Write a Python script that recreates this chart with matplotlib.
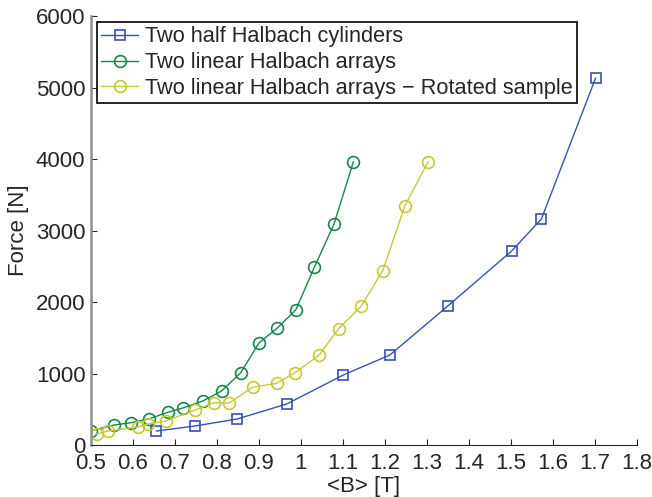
import numpy as np
import matplotlib
matplotlib.use("Agg")
from matplotlib import pyplot as plt

plt.rcParams["font.family"] = ["Liberation Sans", "DejaVu Sans"]

# Data
b_cyl = [0.656, 0.748, 0.848, 0.966, 1.101, 1.212, 1.350, 1.502, 1.573, 1.702]
f_cyl = [196, 266, 364, 573, 979, 1259, 1944, 2713, 3161, 5130]

b_lin = [0.500, 0.555, 0.595, 0.637, 0.683, 0.718, 0.766, 0.811, 0.857, 0.900,
         0.944, 0.988, 1.032, 1.079, 1.125]
f_lin = [200, 280, 312, 364, 457, 517, 615, 755, 1012, 1427,
         1636, 1892, 2485, 3091, 3961]

b_rot = [0.514, 0.541, 0.611, 0.636, 0.679, 0.748, 0.794, 0.829, 0.885, 0.942,
         0.986, 1.043, 1.090, 1.144, 1.195, 1.248, 1.303]
f_rot = [154, 196, 252, 294, 336, 490, 591, 587, 808, 863,
         1012, 1254, 1627, 1944, 2438, 3348, 3961]

labels = ["Two half Halbach cylinders",
          "Two linear Halbach arrays",
          "Two linear Halbach arrays \u2212 Rotated sample"]

fs = 16
fig = plt.figure(figsize=(6.52, 4.97), dpi=100)
ax = fig.add_axes([0.1396, 0.1046, 0.8369, 0.8632])

ax.plot(b_cyl, f_cyl, "-s", color="#3752b0", lw=1, ms=7, mfc="none", mew=1.2, label=labels[0])
ax.plot(b_lin, f_lin, "-o", color="#16874a", lw=1, ms=8.5, mfc="none", mew=1.2, label=labels[1])
ax.plot(b_rot, f_rot, "-o", color="#c8c834", lw=1, ms=8.5, mfc="none", mew=1.2, label=labels[2])

ax.set_xlim(0.5, 1.8)
ax.set_ylim(0, 6000)
ax.set_xticks(np.arange(0.5, 1.81, 0.1))
ax.set_xticklabels(["0.5", "0.6", "0.7", "0.8", "0.9", "1", "1.1", "1.2", "1.3",
                    "1.4", "1.5", "1.6", "1.7", "1.8"])
ax.set_yticks(np.arange(0, 6001, 1000))

ax.spines["top"].set_visible(False)
ax.spines["right"].set_visible(False)
ax.spines["left"].set_color("#909090")
ax.spines["left"].set_linewidth(1.8)
ax.spines["bottom"].set_color("#262626")
ax.tick_params(axis="y", direction="in", length=4, colors="#262626", labelsize=fs, pad=4)
ax.tick_params(axis="x", direction="in", length=4, colors="#262626", labelsize=fs, pad=6)

ax.set_xlabel("<B> [T]", fontsize=fs, color="#262626", labelpad=1)
ax.set_ylabel("Force [N]", fontsize=fs, color="#262626", labelpad=5)

leg = ax.legend(loc="upper left", bbox_to_anchor=(6 / 546, 1 - 6 / 429), borderaxespad=0,
                fontsize=15.7, fancybox=False, framealpha=1, edgecolor="black",
                handlelength=1.7, handletextpad=0.3, labelspacing=0.22, borderpad=0.2)
leg.get_frame().set_linewidth(1.2)
for t in leg.get_texts():
    t.set_color("#262626")

fig.savefig("out.png", dpi=100)
